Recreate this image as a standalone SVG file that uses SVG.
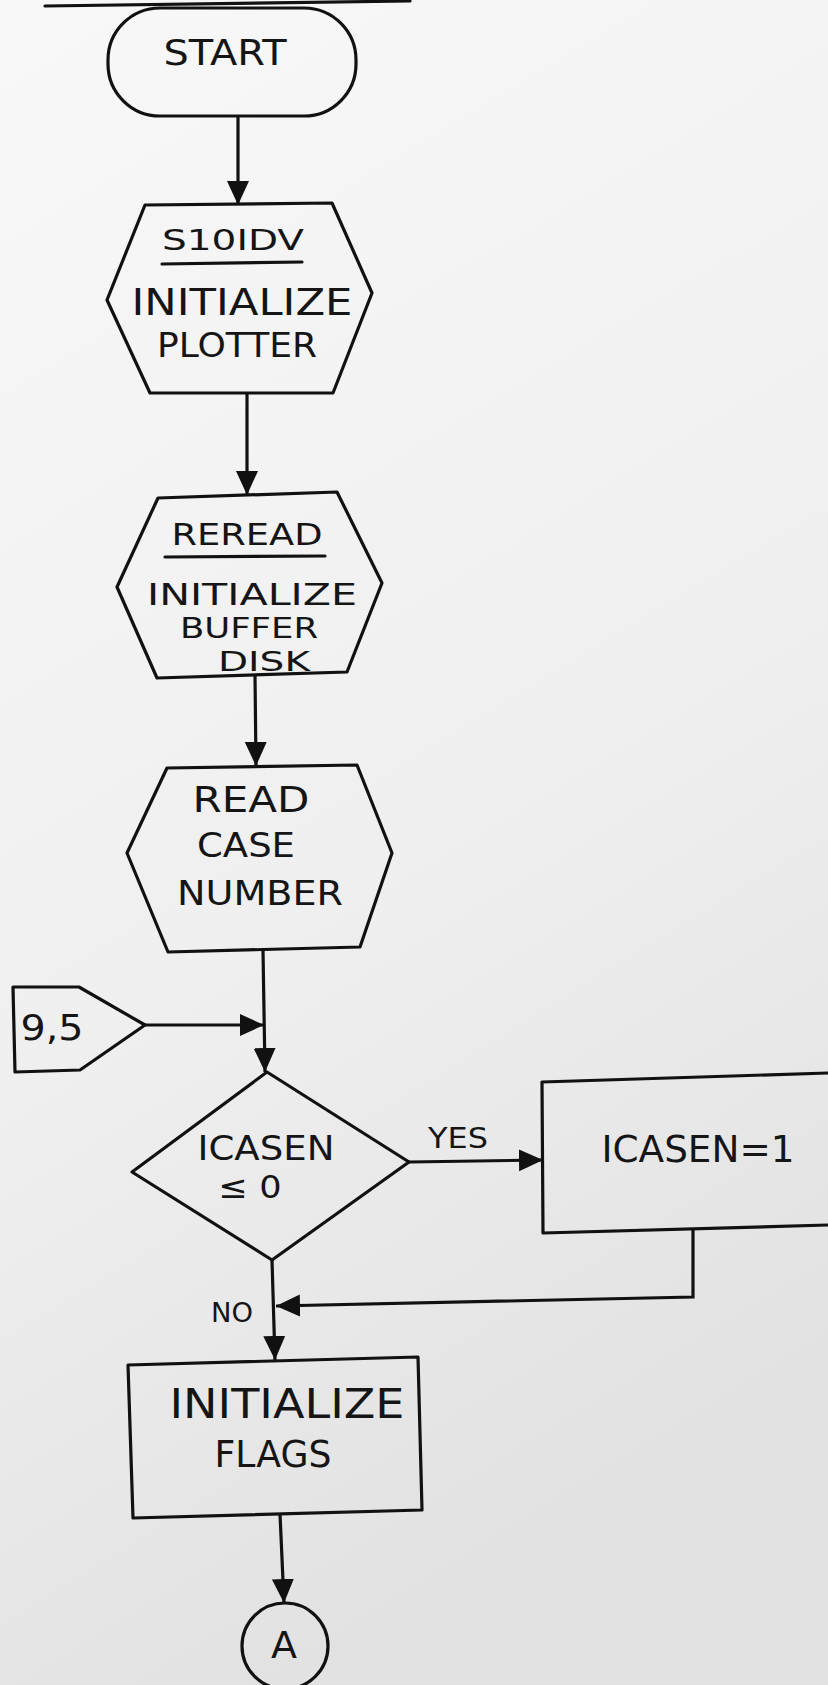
<svg xmlns="http://www.w3.org/2000/svg" width="828" height="1685" viewBox="0 0 828 1685">
<defs>
<linearGradient id="bg" x1="0" y1="0" x2="0.3" y2="1">
<stop offset="0" stop-color="#f8f8f8"/>
<stop offset="0.6" stop-color="#efefef"/>
<stop offset="1" stop-color="#e2e2e2"/>
</linearGradient>
<marker id="arr" viewBox="0 0 24 24" refX="24" refY="12" markerWidth="24" markerHeight="24" markerUnits="userSpaceOnUse" orient="auto">
<path d="M0,1 L24,12 L0,23 Z" fill="#111"/>
</marker>
<style>
.s{fill:none;stroke:#111;stroke-width:3.2;stroke-linejoin:round;stroke-linecap:round}
.c{fill:none;stroke:#111;stroke-width:3.2;marker-end:url(#arr)}
.t{font-family:"DejaVu Sans","Liberation Sans",sans-serif;fill:#151515;text-anchor:middle}
</style>
</defs>
<rect width="828" height="1685" fill="url(#bg)"/>
<line x1="45" y1="6" x2="410" y2="1" class="s"/>

<g id="start">
<rect x="108" y="8" width="248" height="108" rx="52" class="s"/>
<text class="t" x="225" y="65" font-size="36" textLength="123" lengthAdjust="spacingAndGlyphs">START</text>
</g>

<g id="s10idv">
<polygon points="145,205 332,203 372,293 333,393 150,393 107,300" class="s"/>
<text class="t" x="233" y="250" font-size="28" textLength="142" lengthAdjust="spacingAndGlyphs">S10IDV</text>
<line x1="162" y1="264" x2="302" y2="262" class="s"/>
<text class="t" x="242" y="315" font-size="38" textLength="221" lengthAdjust="spacingAndGlyphs">INITIALIZE</text>
<text class="t" x="237" y="357" font-size="33" textLength="160" lengthAdjust="spacingAndGlyphs">PLOTTER</text>
</g>

<g id="reread">
<polygon points="158,498 337,492 382,583 347,672 157,678 117,587" class="s"/>
<text class="t" x="247" y="545" font-size="30" textLength="151" lengthAdjust="spacingAndGlyphs">REREAD</text>
<line x1="165" y1="557" x2="325" y2="556" class="s"/>
<text class="t" x="252" y="605" font-size="31" textLength="210" lengthAdjust="spacingAndGlyphs">INITIALIZE</text>
<text class="t" x="249" y="638" font-size="28" textLength="138" lengthAdjust="spacingAndGlyphs">BUFFER</text>
<text class="t" x="264" y="671" font-size="26" textLength="92" lengthAdjust="spacingAndGlyphs">DISK</text>
</g>

<g id="read">
<polygon points="167,768 357,765 392,853 360,947 168,952 127,853" class="s"/>
<text class="t" x="251" y="812" font-size="36" textLength="117" lengthAdjust="spacingAndGlyphs">READ</text>
<text class="t" x="246" y="857" font-size="33" textLength="98" lengthAdjust="spacingAndGlyphs">CASE</text>
<text class="t" x="260" y="905" font-size="33" textLength="166" lengthAdjust="spacingAndGlyphs">NUMBER</text>
</g>

<g id="entry95">
<polygon points="13,987 79,987 145,1025 80,1070 15,1072" class="s"/>
<text class="t" x="52" y="1040" font-size="36" textLength="63" lengthAdjust="spacingAndGlyphs">9,5</text>
</g>

<g id="decision">
<polygon points="267,1072 409,1162 272,1260 132,1172" class="s"/>
<text class="t" x="266" y="1160" font-size="33" textLength="137" lengthAdjust="spacingAndGlyphs">ICASEN</text>
<text class="t" x="250" y="1198" font-size="32" textLength="63" lengthAdjust="spacingAndGlyphs">≤ 0</text>
</g>

<g id="setone">
<polyline points="828,1073 542,1082 543,1233 828,1225" class="s"/>
<text class="t" x="698" y="1162" font-size="38" textLength="193" lengthAdjust="spacingAndGlyphs">ICASEN=1</text>
</g>

<g id="flags">
<polygon points="128,1365 418,1357 422,1510 133,1518" class="s"/>
<text class="t" x="287" y="1418" font-size="40" textLength="235" lengthAdjust="spacingAndGlyphs">INITIALIZE</text>
<text class="t" x="273" y="1467" font-size="37" textLength="117" lengthAdjust="spacingAndGlyphs">FLAGS</text>
</g>

<g id="connA">
<circle cx="285" cy="1646" r="43" class="s"/>
<text class="t" x="284" y="1658" font-size="38">A</text>
</g>

<g id="connectors">
<line x1="238" y1="117" x2="238" y2="205" class="c"/>
<line x1="247" y1="393" x2="247" y2="495" class="c"/>
<line x1="255" y1="675" x2="256" y2="766" class="c"/>
<line x1="263" y1="950" x2="265" y2="1072" class="c"/>
<line x1="145" y1="1025" x2="264" y2="1025" class="c"/>
<line x1="409" y1="1162" x2="543" y2="1160" class="c"/>
<line x1="272" y1="1260" x2="275" y2="1360" class="c"/>
<polyline points="693,1230 693,1297 276,1306" class="c"/>
<line x1="280" y1="1514" x2="284" y2="1603" class="c"/>
<text class="t" x="458" y="1148" font-size="29" textLength="60" lengthAdjust="spacingAndGlyphs">YES</text>
<text class="t" x="232" y="1322" font-size="26" textLength="42" lengthAdjust="spacingAndGlyphs">NO</text>
</g>
</svg>
